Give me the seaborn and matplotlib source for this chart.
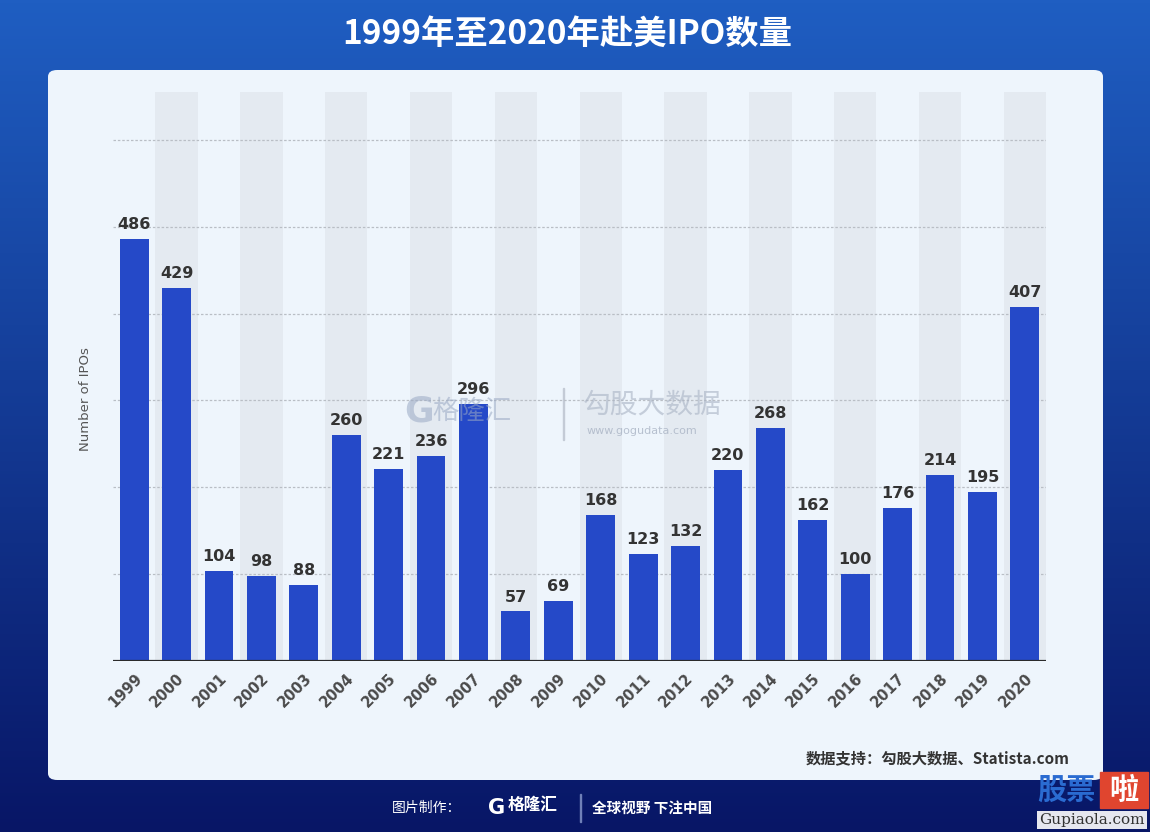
import numpy as np
import pandas as pd
import matplotlib
matplotlib.use("Agg")
import matplotlib.pyplot as plt
import seaborn as sns
from matplotlib.patches import FancyBboxPatch, Rectangle

# data
years = [str(y) for y in range(1999, 2021)]
ipos = [486, 429, 104, 98, 88, 260, 221, 236, 296, 57, 69,
        168, 123, 132, 220, 268, 162, 100, 176, 214, 195, 407]
grid_ticks = [0, 100, 200, 300, 400, 500, 600]

title = "1999年至2020年赴美IPO数量"
y_label = "Number of IPOs"
source = "数据支持：勾股大数据、Statista.com"

sns.set_theme(style="white")
plt.rcParams['font.family'] = ['Noto Sans CJK SC', 'DejaVu Sans']

fig = plt.figure(figsize=(11.5, 8.32), dpi=100)

# blue gradient background
bg = fig.add_axes([0, 0, 1, 1], zorder=-10)
top = np.array([0x1f, 0x5e, 0xc2]) / 255
bot = np.array([0x08, 0x16, 0x66]) / 255
t = np.linspace(0, 1, 256)[:, None]
grad = (top * (1 - t) + bot * t)[:, None, :].repeat(2, axis=1)
bg.imshow(grad, aspect='auto', extent=[0, 1, 0, 1])
bg.set_xlim(0, 1)
bg.set_ylim(0, 1)
bg.axis('off')

# white card
W, H = 1150, 832
card = FancyBboxPatch((48 / W, (H - 780) / H), (1103 - 48) / W, (780 - 70) / H,
                      boxstyle="round,pad=0,rounding_size=0.008",
                      transform=bg.transAxes, facecolor='#eef5fc',
                      edgecolor='none', zorder=1)
bg.add_patch(card)

# chart axes
ax = fig.add_axes([113 / W, (H - 661) / H, 933 / W, (661 - 92) / H])
ax.set_facecolor('none')
df = pd.DataFrame({'year': years, 'ipos': ipos})
sns.barplot(data=df, x='year', y='ipos', color='#2549c8', width=0.68,
            saturation=1, linewidth=0, ax=ax, zorder=3)

for i in range(len(years)):
    if i % 2 == 1:
        ax.axvspan(i - 0.5, i + 0.5, color='#e4eaf1', zorder=0, lw=0)

for g in grid_ticks[1:]:
    ax.axhline(g, color='#b9bec5', lw=0.9, ls=(0, (2, 1.5)), zorder=1)
ax.axhline(0, color='#2b2b2b', lw=1.6, zorder=4)

ax.bar_label(ax.containers[0], padding=5, fontsize=11.5, fontweight='bold',
             color='#333333', family='DejaVu Sans')

ax.set_xlim(-0.5, len(years) - 0.5)
ax.set_ylim(0, 655)
ax.set_yticks([])
ax.set_xlabel('')
ax.set_ylabel(y_label, fontsize=9.5, color='#555555', family='DejaVu Sans')
ax.yaxis.set_label_coords(-0.022, 0.46)
ax.tick_params(axis='x', length=0, pad=7)
for lab in ax.get_xticklabels():
    lab.set_rotation(45)
    lab.set_ha('right')
    lab.set_rotation_mode('anchor')
    lab.set_fontsize(10.5)
    lab.set_fontweight('bold')
    lab.set_color('#4a4a4a')
    lab.set_family('DejaVu Sans')
for s in ax.spines.values():
    s.set_visible(False)

# texts
fig.text(567 / W, 1 - 34 / H, title, ha='center', va='center', fontsize=24,
         color='white', fontweight='bold')
fig.text(1070 / W, 1 - 758 / H, source, ha='right', va='center', fontsize=11,
         color='#333333', fontweight='bold')

# watermark in the middle
fig.text(404 / W, 1 - 411 / H, "G", fontsize=26, color='#9aa9c4', alpha=0.55,
         ha='left', va='center', fontweight='bold', family='DejaVu Sans')
fig.text(432 / W, 1 - 411 / H, "格隆汇", fontsize=19, color='#9aa9c4',
         alpha=0.55, ha='left', va='center')
fig.text(583 / W, 1 - 405 / H, "勾股大数据", fontsize=20, color='#a9b3c4',
         alpha=0.6, ha='left', va='center')
fig.text(587 / W, 1 - 431 / H, "www.gogudata.com", fontsize=8, color='#a9b3c4',
         alpha=0.8, ha='left', va='center', family='DejaVu Sans')
bg.add_patch(Rectangle((563 / W, 1 - 440 / H), 1.2 / W, 52 / H,
                       color='#c4cbd6', zorder=2))

# footer
fig.text(392 / W, 1 - 808 / H, "图片制作：", fontsize=10, color='white',
         ha='left', va='center')
fig.text(488 / W, 1 - 808 / H, "G", fontsize=15, color='white', ha='left',
         va='center', fontweight='bold', family='DejaVu Sans')
fig.text(508 / W, 1 - 805 / H, "格隆汇", fontsize=12, color='white',
         ha='left', va='center', fontweight='bold')
bg.add_patch(Rectangle((580 / W, 1 - 822 / H), 1 / W, 28 / H,
                       color='#6f80b8', zorder=2))
fig.text(592 / W, 1 - 808 / H, "全球视野 下注中国", fontsize=10.5, color='white',
         ha='left', va='center', fontweight='bold')

# corner logo
bg.add_patch(Rectangle((1100 / W, 1 - 808 / H), 48 / W, 36 / H,
                       color='#e0452f', zorder=5))
fig.text(1066 / W, 1 - 790 / H, "股票", fontsize=21, color='#2a6bd1',
         ha='center', va='center', fontweight='bold', zorder=6)
fig.text(1124 / W, 1 - 790 / H, "啦", fontsize=21, color='white',
         ha='center', va='center', fontweight='bold', zorder=6)
fig.text(1092 / W, 1 - 820 / H, "Gupiaola.com", fontsize=11, color='#333333',
         ha='center', va='center', family='DejaVu Serif', zorder=6,
         bbox=dict(facecolor='white', edgecolor='none', pad=1.5, alpha=0.9))

fig.savefig('out.png', dpi=100)
